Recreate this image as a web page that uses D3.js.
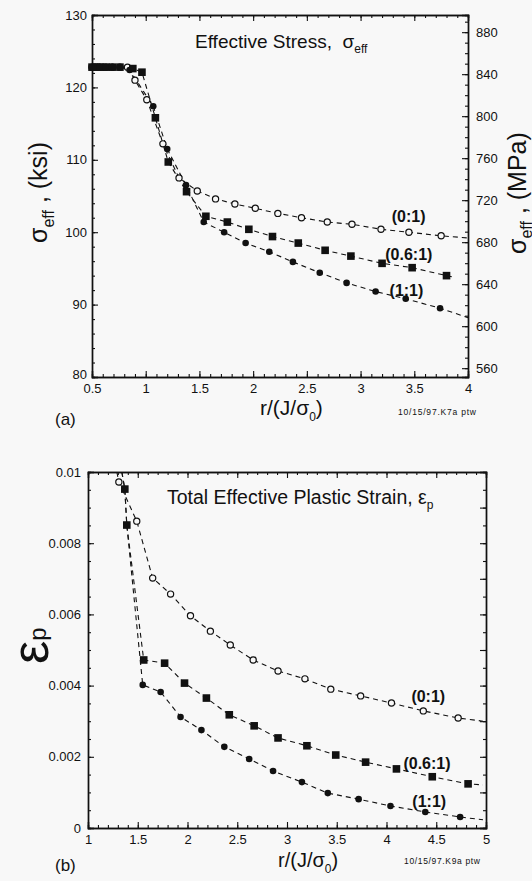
<!DOCTYPE html>
<html><head><meta charset="utf-8">
<script src="https://cdn.jsdelivr.net/npm/d3@7/dist/d3.min.js"></script>
<style>
body{margin:0;background:#f8f8f8;}
svg{display:block;font-family:"Liberation Sans",Arial,Helvetica,sans-serif;}
text{white-space:pre;}
</style>
</head><body>
<svg id="chart" width="532" height="881"></svg>
<script>
// ---------------- DATA ----------------
const seriesNames = ["(0:1)", "(0.6:1)", "(1:1)"];

// (a) Effective stress (ksi) vs r/(J/sigma0)
const stress01R = [0.5,0.54,0.58,0.63,0.69,0.76,0.83,0.90,1.01,1.16,1.31,1.48,1.65,1.83,2.02,2.23,2.45,2.69,2.92,3.19,3.45,3.75];
const stress01V = [122.8,122.8,122.8,122.8,122.8,122.8,122.8,121.0,118.3,112.2,107.5,105.7,104.6,103.9,103.3,102.6,102.0,101.4,101.1,100.4,100.0,99.5];
const stress06R = [0.5,0.54,0.58,0.63,0.69,0.76,0.88,0.965,1.09,1.21,1.38,1.56,1.76,1.96,2.18,2.42,2.67,2.91,3.20,3.48,3.80];
const stress06V = [122.8,122.8,122.8,122.8,122.8,122.8,122.6,122.1,115.8,109.7,105.6,102.2,101.4,100.4,99.4,98.5,97.5,96.7,95.7,95.1,94.0];
const stress11R = [0.5,0.54,0.58,0.63,0.69,0.76,0.85,1.07,1.20,1.375,1.54,1.73,1.93,2.15,2.37,2.62,2.87,3.14,3.42,3.74];
const stress11V = [122.8,122.8,122.8,122.8,122.8,122.8,122.4,117.4,111.5,106.5,101.4,100.0,98.5,97.3,95.9,94.4,93.0,91.8,90.8,89.5];
const stressTailR = [4.0, 3.86, 4.0];
const stressTailV = [99.2, 93.8, 88.2];

const stressXTicks = [0.5,1,1.5,2,2.5,3,3.5,4];
const stressXTickLabels = ["0.5","1","1.5","2","2.5","3","3.5","4"];
const stressKsiTicks = [80,90,100,110,120,130];
const stressMPaTicks = [560,600,640,680,720,760,800,840,880];

// (b) Total effective plastic strain vs r/(J/sigma0)
const strain01R = [1.31,1.49,1.65,1.83,2.03,2.23,2.43,2.66,2.91,3.18,3.44,3.74,4.05,4.37,4.72];
const strain01V = [0.00972,0.00862,0.00702,0.00657,0.00596,0.00553,0.00514,0.00472,0.00441,0.00419,0.00390,0.00371,0.00351,0.00329,0.00309];
const strain06R = [1.37,1.39,1.56,1.77,1.97,2.19,2.42,2.67,2.91,3.20,3.49,3.79,4.10,4.46,4.82];
const strain06V = [0.00952,0.00851,0.00472,0.00463,0.00407,0.00365,0.00318,0.00287,0.00253,0.00231,0.00205,0.00185,0.00166,0.00144,0.00124];
const strain11R = [1.37,1.39,1.55,1.73,1.93,2.14,2.37,2.62,2.86,3.15,3.41,3.72,4.04,4.39,4.74];
const strain11V = [0.00952,0.00851,0.00402,0.00382,0.00312,0.00275,0.00228,0.00194,0.00160,0.00129,0.00098,0.00081,0.00062,0.00045,0.00031];
const strainHeadR = [1.29, 1.34, 1.34];
const strainHeadV = [0.0100, 0.0100, 0.0100];
const strainTailR = [4.97, 4.97, 4.97];
const strainTailV = [0.00300, 0.00121, 0.00023];

const strainXTicks = [1,1.5,2,2.5,3,3.5,4,4.5,5];
const strainXTickLabels = ["1","1.5","2","2.5","3","3.5","4","4.5","5"];
const strainYTicks = [0,0.002,0.004,0.006,0.008,0.01];
const strainYTickLabels = ["0","0.002","0.004","0.006","0.008","0.01"];

const KSI_TO_MPA = 6.895;

// ---------------- DRAW ----------------
const svg = d3.select("#chart");
const INK = "#111";

function zip(r, v){ return r.map((d,i)=>({x:d, y:v[i]})); }

function drawMarkers(g, pts, type, xs, ys){
  const sel = g.selectAll(null).data(pts).enter();
  if(type === "open"){
    sel.append("circle").attr("cx",d=>xs(d.x)).attr("cy",d=>ys(d.y)).attr("r",3.1)
      .attr("fill","#f8f8f8").attr("stroke",INK).attr("stroke-width",1.2);
  } else if(type === "square"){
    sel.append("rect").attr("x",d=>xs(d.x)-3.8).attr("y",d=>ys(d.y)-3.8)
      .attr("width",7.6).attr("height",7.6).attr("fill",INK);
  } else {
    sel.append("circle").attr("cx",d=>xs(d.x)).attr("cy",d=>ys(d.y)).attr("r",3.3).attr("fill",INK);
  }
}

function drawLine(g, pts, xs, ys){
  g.append("path").datum(pts)
    .attr("d", d3.line().x(d=>xs(d.x)).y(d=>ys(d.y)))
    .attr("fill","none").attr("stroke",INK).attr("stroke-width",1.1)
    .attr("stroke-dasharray","5,4");
}

function range(a,b,s){ const out=[]; for(let v=a; v<=b+1e-9; v+=s) out.push(+v.toFixed(6)); return out; }

function styleAxis(g){
  g.select(".domain").attr("stroke",INK).attr("stroke-width",1.4);
  g.selectAll(".tick line").attr("stroke",INK).attr("stroke-width",1.1);
  g.selectAll("text").attr("fill",INK).attr("font-size",13).attr("font-family","'Liberation Sans',Arial,sans-serif");
}

// ===== Panel (a) =====
{
  const x = d3.scaleLinear().domain([0.5,4]).range([92,468]);
  const y = d3.scaleLinear().domain([80,130]).range([377,15]);
  const yM = d3.scaleLinear().domain([80*KSI_TO_MPA,130*KSI_TO_MPA]).range([377,15]);
  const g = svg.append("g");

  const minorX = range(0.5,4,0.1);
  g.append("g").attr("transform","translate(0,377)").call(d3.axisBottom(x).tickValues(minorX).tickSize(-3).tickFormat("")).call(styleAxis);
  g.append("g").attr("transform","translate(0,15)").call(d3.axisTop(x).tickValues(minorX).tickSize(-3).tickFormat("")).call(styleAxis);
  g.append("g").attr("transform","translate(92,0)").call(d3.axisLeft(y).tickValues(range(80,130,2)).tickSize(-3).tickFormat("")).call(styleAxis);
  g.append("g").attr("transform","translate(468,0)").call(d3.axisRight(yM).tickValues(range(560,890,10)).tickSize(-3).tickFormat("")).call(styleAxis);

  g.append("g").attr("transform","translate(0,377)")
    .call(d3.axisBottom(x).tickValues(stressXTicks).tickSize(-6).tickPadding(7).tickFormat((d,i)=>stressXTickLabels[i]))
    .call(styleAxis);
  g.append("g").attr("transform","translate(0,15)")
    .call(d3.axisTop(x).tickValues(stressXTicks).tickSize(-6).tickFormat(""))
    .call(styleAxis);
  g.append("g").attr("transform","translate(92,0)")
    .call(d3.axisLeft(y).tickValues(stressKsiTicks).tickSize(-6).tickPadding(5).tickFormat(d3.format("d")))
    .call(styleAxis)
    .call(a=>a.selectAll(".tick").filter(d=>d===80).select("text").attr("dy","0.15em"));
  g.append("g").attr("transform","translate(468,0)")
    .call(d3.axisRight(yM).tickValues(stressMPaTicks).tickSize(-6).tickPadding(8).tickFormat(d3.format("d")))
    .call(styleAxis);

  const s1 = zip(stress01R, stress01V), s2 = zip(stress06R, stress06V), s3 = zip(stress11R, stress11V);
  drawLine(g, s1.concat([{x:stressTailR[0], y:stressTailV[0]}]), x, y);
  drawLine(g, s2.concat([{x:stressTailR[1], y:stressTailV[1]}]), x, y);
  drawLine(g, s3.concat([{x:stressTailR[2], y:stressTailV[2]}]), x, y);
  drawMarkers(g, s1, "open", x, y);
  drawMarkers(g, s3, "filled", x, y);
  drawMarkers(g, s2, "square", x, y);

  const lbl = [[3.29,101.4],[3.23,96.2],[3.27,91.2]];
  seriesNames.forEach((n,i)=>{
    g.append("text").attr("x",x(lbl[i][0])).attr("y",y(lbl[i][1])).attr("font-size",16).attr("font-weight","bold").attr("fill",INK).text(n);
  });

  const t = g.append("text").attr("x",195).attr("y",48).attr("font-size",19).attr("fill",INK);
  t.append("tspan").text("Effective Stress,  \u03c3");
  t.append("tspan").attr("font-size",12).attr("dy",5).text("eff");

  const yl = g.append("text").attr("transform","translate(47,243) rotate(-90)").attr("font-size",25).attr("fill",INK);
  yl.append("tspan").text("\u03c3");
  yl.append("tspan").attr("font-size",16).attr("dy",7).text("eff");
  yl.append("tspan").attr("dy",-7).text(" , (ksi)");

  const yr = g.append("text").attr("transform","translate(526,254) rotate(-90)").attr("font-size",25).attr("fill",INK);
  yr.append("tspan").text("\u03c3");
  yr.append("tspan").attr("font-size",16).attr("dy",6).text("eff");
  yr.append("tspan").attr("dy",-6).text(" , (MPa)");

  const xl = g.append("text").attr("x",260).attr("y",415).attr("font-size",21).attr("fill",INK);
  xl.append("tspan").text("r/(J/\u03c3");
  xl.append("tspan").attr("font-size",12).attr("dy",6).text("0");
  xl.append("tspan").attr("dy",-6).text(")");

  g.append("text").attr("x",55).attr("y",425).attr("font-size",17).attr("fill",INK).text("(a)");
  g.append("text").attr("x",398).attr("y",415).attr("font-size",8.5).attr("fill",INK).attr("textLength",78).text("10/15/97.K7a ptw");
}

// ===== Panel (b) =====
{
  const x = d3.scaleLinear().domain([1,5]).range([88,486]);
  const y = d3.scaleLinear().domain([0,0.01]).range([828,472]);
  const g = svg.append("g");

  const minorX = range(1,5,0.1);
  g.append("g").attr("transform","translate(0,828)").call(d3.axisBottom(x).tickValues(minorX).tickSize(-3).tickFormat("")).call(styleAxis);
  g.append("g").attr("transform","translate(0,472)").call(d3.axisTop(x).tickValues(minorX).tickSize(-3).tickFormat("")).call(styleAxis);
  g.append("g").attr("transform","translate(88,0)").call(d3.axisLeft(y).tickValues(range(0,0.01,0.0005)).tickSize(-3).tickFormat("")).call(styleAxis);
  g.append("g").attr("transform","translate(486,0)").call(d3.axisRight(y).tickValues(range(0,0.01,0.0005)).tickSize(-3).tickFormat("")).call(styleAxis);

  g.append("g").attr("transform","translate(0,828)")
    .call(d3.axisBottom(x).tickValues(strainXTicks).tickSize(-6).tickPadding(7).tickFormat((d,i)=>strainXTickLabels[i]))
    .call(styleAxis);
  g.append("g").attr("transform","translate(0,472)")
    .call(d3.axisTop(x).tickValues(strainXTicks).tickSize(-6).tickFormat(""))
    .call(styleAxis);
  g.append("g").attr("transform","translate(88,0)")
    .call(d3.axisLeft(y).tickValues(strainYTicks).tickSize(-6).tickPadding(7).tickFormat((d,i)=>strainYTickLabels[i]))
    .call(styleAxis);
  g.append("g").attr("transform","translate(486,0)")
    .call(d3.axisRight(y).tickValues(range(0,0.01,0.001)).tickSize(-6).tickFormat(""))
    .call(styleAxis);

  const s1 = zip(strain01R, strain01V), s2 = zip(strain06R, strain06V), s3 = zip(strain11R, strain11V);
  const heads = zip(strainHeadR, strainHeadV), tails = zip(strainTailR, strainTailV);
  drawLine(g, [heads[0]].concat(s1, [tails[0]]), x, y);
  drawLine(g, [heads[1]].concat(s2, [tails[1]]), x, y);
  drawLine(g, [heads[2]].concat(s3, [tails[2]]), x, y);
  drawMarkers(g, s1, "open", x, y);
  drawMarkers(g, s3, "filled", x, y);
  drawMarkers(g, s2, "square", x, y);

  const lbl = [[4.25,0.00354],[4.17,0.00166],[4.26,0.00059]];
  seriesNames.forEach((n,i)=>{
    g.append("text").attr("x",x(lbl[i][0])).attr("y",y(lbl[i][1])).attr("font-size",16).attr("font-weight","bold").attr("fill",INK).text(n);
  });

  const t = g.append("text").attr("x",167).attr("y",504).attr("font-size",19.5).attr("fill",INK);
  t.append("tspan").text("Total Effective Plastic Strain, \u03b5");
  t.append("tspan").attr("font-size",12).attr("dy",5).text("p");

  const yl = g.append("text").attr("transform","translate(48,664) rotate(-90)").attr("font-size",52).attr("fill",INK);
  yl.append("tspan").text("\u03b5");
  yl.append("tspan").attr("font-size",24).attr("dy",-2).text("p");

  const xl = g.append("text").attr("x",278).attr("y",867).attr("font-size",20).attr("fill",INK);
  xl.append("tspan").text("r/(J/\u03c3");
  xl.append("tspan").attr("font-size",12).attr("dy",6).text("0");
  xl.append("tspan").attr("dy",-6).text(")");

  g.append("text").attr("x",55).attr("y",871).attr("font-size",17).attr("fill",INK).text("(b)");
  g.append("text").attr("x",404).attr("y",864).attr("font-size",8.5).attr("fill",INK).attr("textLength",76).text("10/15/97.K9a ptw");
}
</script>
</body></html>
